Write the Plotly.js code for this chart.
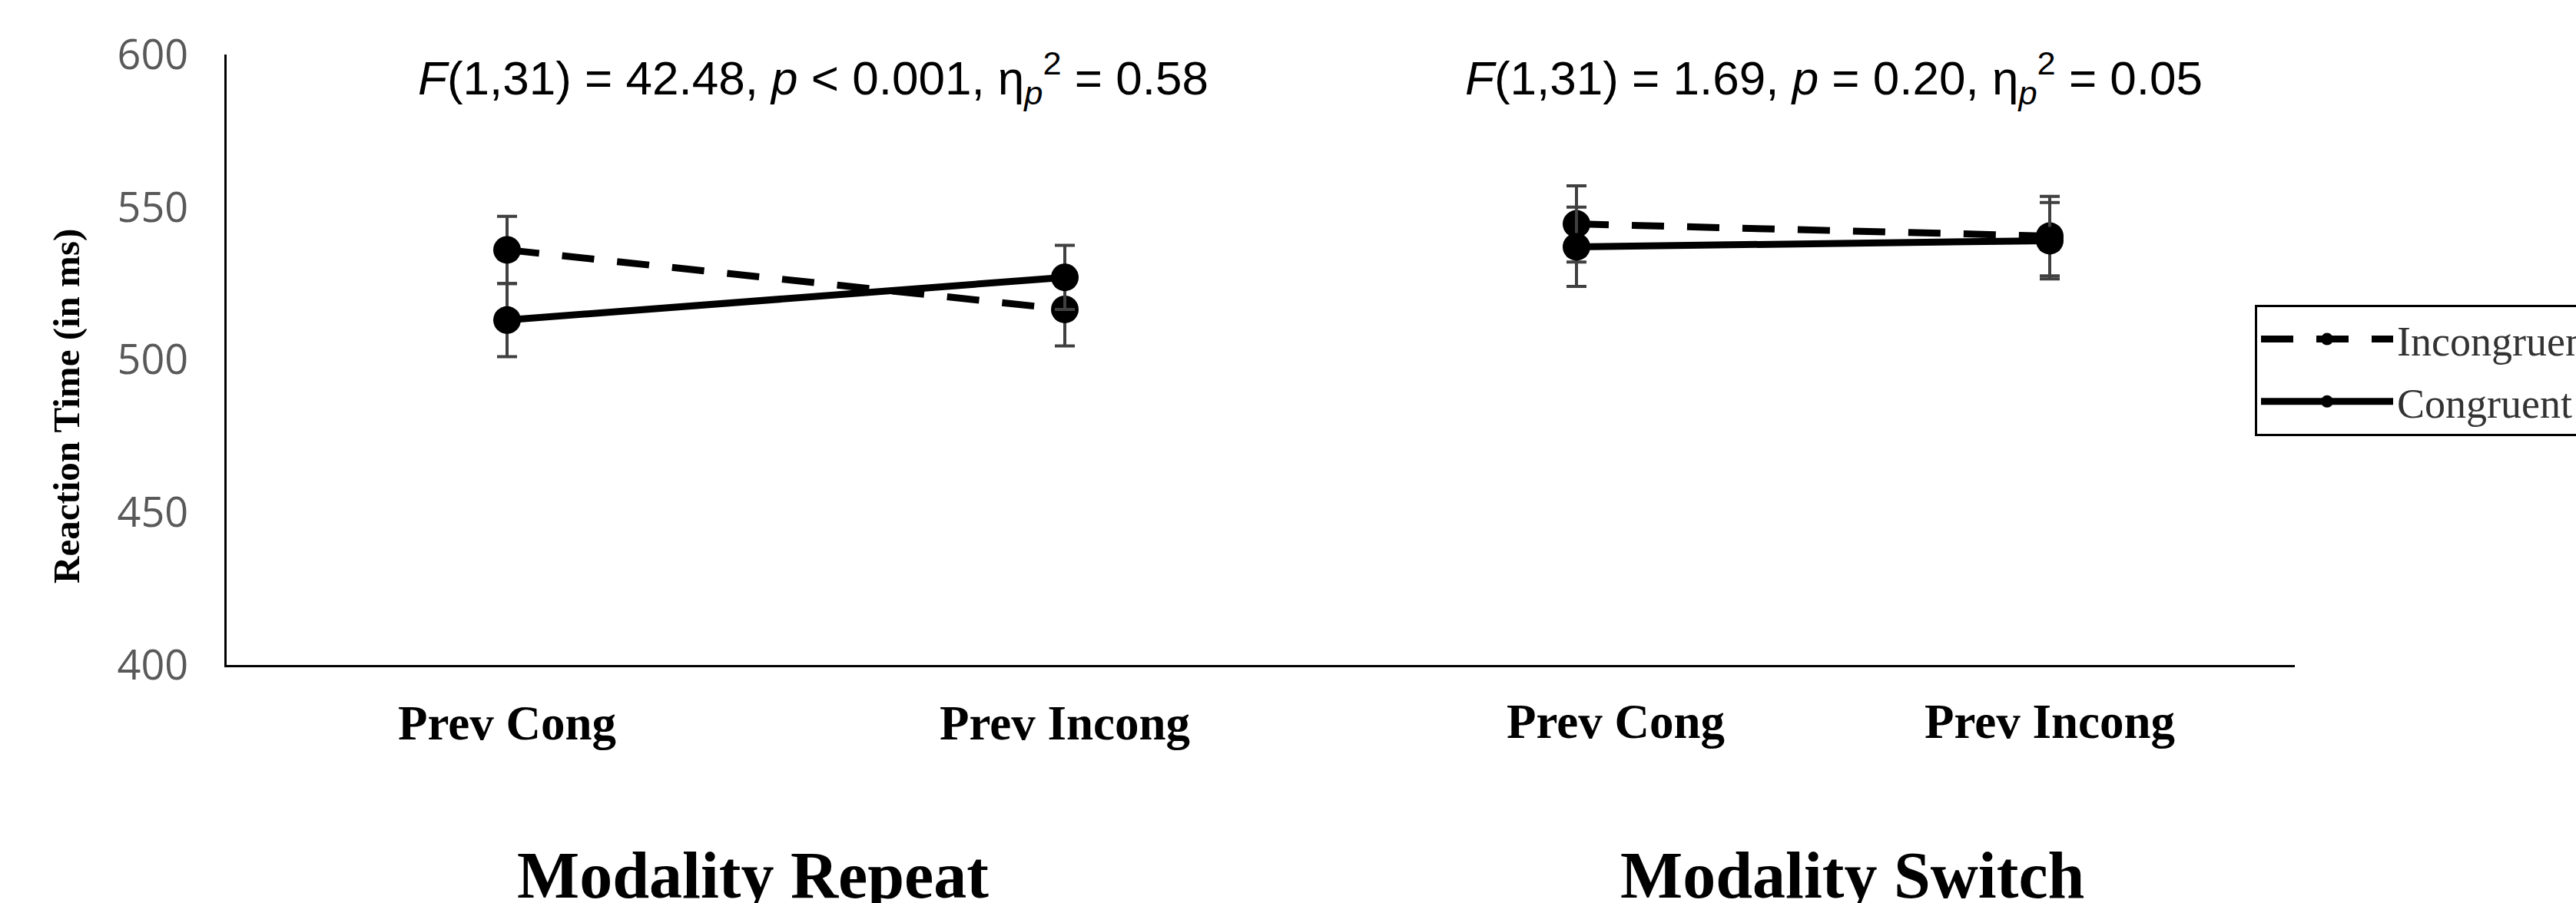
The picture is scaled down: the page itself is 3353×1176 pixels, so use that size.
<!DOCTYPE html>
<html>
<head>
<meta charset="utf-8">
<script src="https://cdn.plot.ly/plotly-3.0.1.min.js"></script>
<style>html,body{margin:0;padding:0;background:#fff;}#chart{width:3353px;height:1176px;}</style>
</head>
<body>
<div id="chart"></div>
<script>
// ---------- data ----------
const categories = ['Prev Cong', 'Prev Incong'];
const panelTitles = ['Modality Repeat', 'Modality Switch'];
const seriesNames = ['Incongruent', 'Congruent'];

const incongruentRepeat = [536, 516.5];
const incongruentRepeatErr = [11, 12];
const congruentRepeat = [513, 527];
const congruentRepeatErr = [12, 10.5];

const incongruentSwitch = [544.5, 540.5];
const incongruentSwitchErr = [12.5, 13];
const congruentSwitch = [537, 539];
const congruentSwitchErr = [13, 12.5];

const yTickValues = [400, 450, 500, 550, 600];
const statsRepeat = '<i>F</i>(1,31) = 42.48, <i>p</i> &lt; 0.001, η<sub><i>p</i></sub><sup>2</sup> = 0.58';
const statsSwitch = '<i>F</i>(1,31) = 1.69, <i>p</i> = 0.20, η<sub><i>p</i></sub><sup>2</sup> = 0.05';
const yTitle = 'Reaction Time (in ms)';

// ---------- layout geometry (pixels) ----------
const W = 3353, H = 1176;
const L = 295, R = 2987, T = 71, B = 866;
const PW = R - L, PH = B - T;
const split = 1720;
const px = p => (p - L) / PW;
const py = p => (B - p) / PH;
function rangeFor(a, b, p0, p1) { const u = p1 - p0; return [(a - p0) / u, (b - p0) / u]; }

const serif = 'Liberation Serif, Times New Roman, serif';
const sans = 'Liberation Sans, Arial, sans-serif';

const errStyle = {type: 'data', symmetric: true, color: '#404040', thickness: 4, width: 13};
function trace(name, x, xa, y, err, dash, showlegend) {
  return {
    type: 'scatter', mode: 'lines+markers', name: name, legendgroup: name, showlegend: showlegend,
    x: x, y: y, xaxis: xa, yaxis: 'y',
    line: {color: '#000', width: 9, dash: dash},
    marker: {color: '#000', size: 36},
    error_y: Object.assign({array: err}, errStyle),
    hoverinfo: 'x+y'
  };
}
const dashPattern = '42px,30px';
const data = [
  trace(seriesNames[0], categories, 'x', incongruentRepeat, incongruentRepeatErr, dashPattern, true),
  trace(seriesNames[0], categories, 'x2', incongruentSwitch, incongruentSwitchErr, dashPattern, false),
  trace(seriesNames[1], categories, 'x', congruentRepeat, congruentRepeatErr, 'solid', true),
  trace(seriesNames[1], categories, 'x2', congruentSwitch, congruentSwitchErr, 'solid', false),
  // carrier for the switch-panel category labels (invisible)
  {type: 'scatter', mode: 'markers', x: categories.map((c, i) => i), y: congruentSwitch,
   xaxis: 'x3', yaxis: 'y', marker: {opacity: 0, size: 1}, showlegend: false, hoverinfo: 'skip'}
];

const tickFont = {family: serif, size: 63, color: '#000', weight: 'bold'};
const layout = {
  width: W, height: H,
  margin: {l: L, r: W - R, t: T, b: H - B, autoexpand: false},
  paper_bgcolor: '#fff', plot_bgcolor: '#fff',
  showlegend: true,
  xaxis: {
    type: 'category', domain: [0, px(split)], anchor: 'y',
    range: rangeFor(L, split, 660, 1386),
    showline: true, linecolor: '#000', linewidth: 3, showgrid: false, zeroline: false,
    ticks: '', tickfont: tickFont, ticklabelstandoff: 18
  },
  xaxis2: {
    type: 'category', domain: [px(split), 1], anchor: 'y',
    range: rangeFor(split, R, 2052, 2668),
    showline: true, linecolor: '#000', linewidth: 3, showgrid: false, zeroline: false,
    ticks: '', showticklabels: false
  },
  xaxis3: {
    type: 'linear', overlaying: 'x2', anchor: 'y',
    range: rangeFor(split, R, 2103, 2668),
    tickmode: 'array', tickvals: categories.map((c, i) => i), ticktext: categories,
    showline: false, showgrid: false, zeroline: false,
    ticks: '', tickfont: tickFont, ticklabelstandoff: 31
  },
  yaxis: {
    range: [400, 600], tickmode: 'array', tickvals: yTickValues,
    showline: true, linecolor: '#000', linewidth: 3, showgrid: false, zeroline: false,
    ticks: '', ticklabelstandoff: 36,
    tickfont: {family: 'Open Sans, sans-serif', size: 54, color: '#595959'}
  },
  legend: {
    x: px(2935), xanchor: 'left', y: py(397), yanchor: 'top',
    bordercolor: '#000', borderwidth: 3, bgcolor: 'rgba(255,255,255,0)',
    font: {family: serif, size: 54, color: '#333'},
    itemwidth: 172, tracegroupgap: 8, itemsizing: 'trace'
  },
  annotations: [
    {text: yTitle, xref: 'paper', yref: 'paper', x: px(86), y: py(529), textangle: -90,
     showarrow: false, xanchor: 'center', yanchor: 'middle',
     font: {family: serif, size: 49, color: '#000', weight: 'bold'}},
    {text: statsRepeat, xref: 'paper', yref: 'paper', x: px(1058), y: py(101),
     showarrow: false, xanchor: 'center', yanchor: 'middle',
     font: {family: sans, size: 62, color: '#000'}},
    {text: statsSwitch, xref: 'paper', yref: 'paper', x: px(2387), y: py(101),
     showarrow: false, xanchor: 'center', yanchor: 'middle',
     font: {family: sans, size: 62, color: '#000'}},
    {text: panelTitles[0], xref: 'paper', yref: 'paper', x: px(980), y: py(1140),
     showarrow: false, xanchor: 'center', yanchor: 'middle',
     font: {family: serif, size: 86, color: '#000', weight: 'bold'}},
    {text: panelTitles[1], xref: 'paper', yref: 'paper', x: px(2411), y: py(1140),
     showarrow: false, xanchor: 'center', yanchor: 'middle',
     font: {family: serif, size: 86, color: '#000', weight: 'bold'}}
  ]
};

Plotly.newPlot('chart', data, layout, {displayModeBar: false, staticPlot: true});
</script>
</body>
</html>
